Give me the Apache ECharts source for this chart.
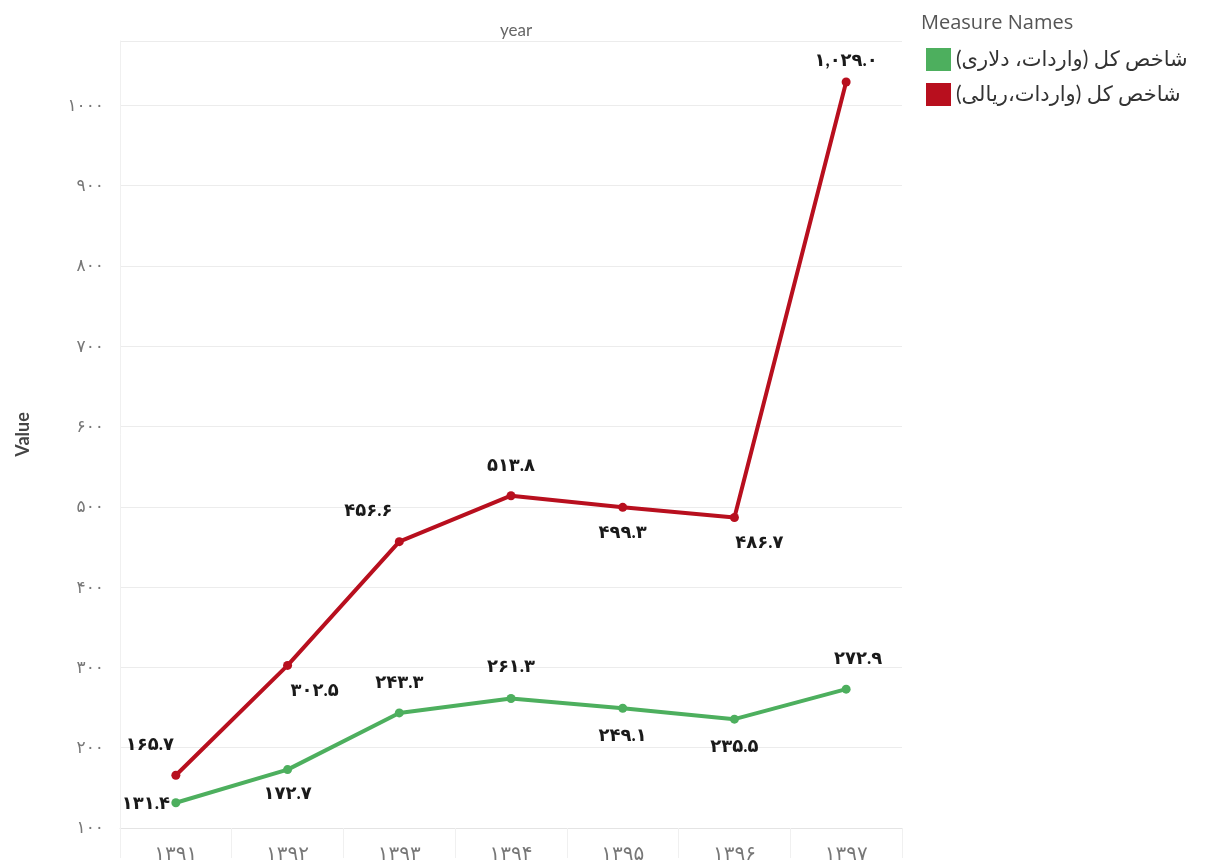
<!DOCTYPE html>
<html>
<head>
<meta charset="utf-8">
<script src="https://cdn.jsdelivr.net/npm/echarts@6/dist/echarts.min.js"></script>
<style>
  html, body { margin: 0; padding: 0; background: #fff; }
  #chart { width: 1205px; height: 864px; }
</style>
</head>
<body>
<div id="chart"></div>
<script>
// data
var years = ['1391', '1392', '1393', '1394', '1395', '1396', '1397']
var dollarIndex = [131.4, 172.7, 243.3, 261.3, 249.1, 235.5, 272.9]
var rialIndex = [165.7, 302.5, 456.6, 513.8, 499.3, 486.7, 1029.0]
var seriesNames = ['شاخص کل (واردات، دلاری)', 'شاخص کل (واردات،ریالی)']

// label offsets (px) from each point
var dollarOffsets = [[-30, 0], [0, 24], [0, -31], [0, -32], [0, 27], [0, 27], [12, -31]]
var rialOffsets = [[-26, -31], [27, 25], [-31, -31], [0, -31], [0, 25], [25, 25], [0, -22]]

var FONT = "Lato, 'DejaVu Sans', sans-serif"

function toFa(s) {
  return String(s).replace(/[0-9]/g, function (d) { return '۰۱۲۳۴۵۶۷۸۹'[+d] })
}
function fmt(v) {
  var parts = v.toFixed(1).split('.')
  var intPart = parts[0].replace(/\B(?=(\d{3})+(?!\d))/g, ',')
  return toFa(intPart + '.' + parts[1])
}

function buildData(values, offsets) {
  return values.map(function (v, i) {
    return {
      value: v,
      label: { offset: offsets[i] }
    }
  })
}

var labelStyle = {
  show: true,
  position: 'inside',
  color: '#1a1a1a',
  fontSize: 18,
  fontWeight: 'bold',
  fontFamily: FONT,
  formatter: function (p) { return fmt(p.value) }
}

var chart = echarts.init(document.getElementById('chart'))
chart.setOption({
  animation: false,
  color: ['#4daf5e', '#b80f1e'],
  textStyle: { fontFamily: FONT },
  title: {
    text: 'year',
    left: 511,
    top: 17,
    textAlign: 'center',
    textStyle: { fontSize: 17, fontWeight: 'normal', color: '#666', fontFamily: FONT }
  },
  legend: {
    orient: 'vertical',
    left: 921,
    top: 43,
    itemWidth: 25,
    itemHeight: 23,
    itemGap: 12,
    icon: 'rect',
    data: seriesNames,
    textStyle: { fontSize: 21, color: '#333', fontFamily: FONT }
  },
  graphic: [{
    type: 'text',
    left: 921,
    top: 13,
    style: { text: 'Measure Names', fontSize: 20, fill: '#555', fontFamily: "'Open Sans', sans-serif" }
  }],
  grid: {
    left: 120,
    right: 303,
    top: 41,
    bottom: 35
  },
  xAxis: {
    type: 'category',
    data: years,
    boundaryGap: true,
    axisLine: { show: true, lineStyle: { color: '#e4e4e4' } },
    axisTick: { show: true, length: 30, lineStyle: { color: '#f0f0f0' } },
    axisLabel: {
      color: '#777',
      fontSize: 20,
      margin: 16,
      formatter: function (v) { return toFa(v) }
    },
    splitLine: { show: false }
  },
  yAxis: {
    type: 'value',
    min: 100,
    max: 1080,
    interval: 100,
    name: 'Value',
    nameLocation: 'middle',
    nameGap: 88,
    nameTextStyle: { fontSize: 18, fontWeight: 'bold', color: '#444', fontFamily: FONT },
    axisLine: { show: true, lineStyle: { color: '#f0f0f0' } },
    axisTick: { show: false },
    axisLabel: {
      color: '#777',
      fontSize: 17,
      margin: 16,
      formatter: function (v) { return v % 100 === 0 ? toFa(v) : '' }
    },
    splitLine: { show: true, lineStyle: { color: '#ececec', width: 1 } }
  },
  series: [
    {
      name: seriesNames[0],
      type: 'line',
      data: buildData(dollarIndex, dollarOffsets),
      symbol: 'circle',
      symbolSize: 9,
      lineStyle: { width: 4 },
      label: labelStyle
    },
    {
      name: seriesNames[1],
      type: 'line',
      data: buildData(rialIndex, rialOffsets),
      symbol: 'circle',
      symbolSize: 9,
      lineStyle: { width: 4 },
      label: labelStyle
    }
  ]
})
</script>
</body>
</html>
